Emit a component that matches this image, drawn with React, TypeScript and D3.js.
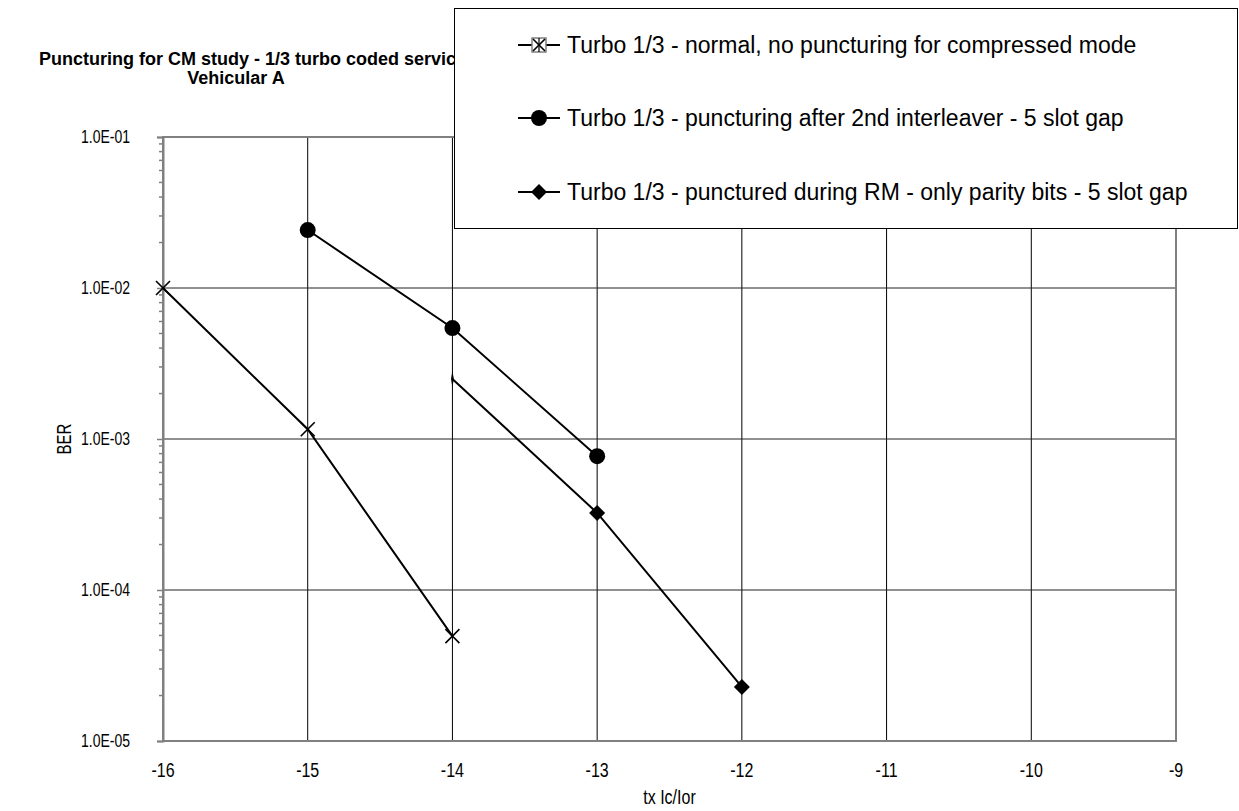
/**
 * D3 log-scale line chart: BER vs tx Ic/Ior for three turbo 1/3 puncturing schemes.
 */
import * as d3 from 'd3';
import { useEffect, useRef } from 'react';

const xTicks = [-16, -15, -14, -13, -12, -11, -10, -9];
const yTicks = [1e-5, 1e-4, 1e-3, 1e-2, 1e-1];

const seriesNames = [
  'Turbo 1/3 - normal, no puncturing for compressed mode',
  'Turbo 1/3 - puncturing after 2nd interleaver - 5 slot gap',
  'Turbo 1/3 - punctured during RM - only parity bits - 5 slot gap',
];

const normalX = [-16, -15, -14];
const normalY = [1.0e-2, 1.16e-3, 4.95e-5];

const afterIlX = [-15, -14, -13];
const afterIlY = [2.42e-2, 5.43e-3, 7.7e-4];

const rmX = [-14, -13, -12];
const rmY = [2.5e-3, 3.24e-4, 2.28e-5];

const FONT = 'Arial, "Liberation Sans", sans-serif';
// axis text in the source is slightly stretched vertically
const STRETCH = 1.3;

export default function App() {
  const svgRef = useRef<SVGSVGElement>(null);

  useEffect(() => {
    if (!svgRef.current) return;
    const W = 1239;
    const H = 811;
    const plot = { left: 163, right: 1176, top: 137, bottom: 741 };

    const svg = d3.select(svgRef.current);
    svg.selectAll('*').remove();
    svg.attr('width', W).attr('height', H);

    svg.append('rect').attr('width', W).attr('height', H).attr('fill', '#fff');

    const x = d3.scaleLinear().domain([-16, -9]).range([plot.left, plot.right]);
    const y = d3.scaleLog().domain([1e-5, 1e-1]).range([plot.bottom, plot.top]);

    // Grid
    const grid = svg.append('g');
    grid
      .selectAll('line.v')
      .data(xTicks)
      .join('line')
      .attr('x1', (d) => x(d))
      .attr('x2', (d) => x(d))
      .attr('y1', plot.top)
      .attr('y2', plot.bottom)
      .attr('stroke', '#000')
      .attr('stroke-width', 1);
    grid
      .selectAll('line.h')
      .data(yTicks)
      .join('line')
      .attr('x1', plot.left)
      .attr('x2', plot.right)
      .attr('y1', (d) => y(d))
      .attr('y2', (d) => y(d))
      .attr('stroke', '#222')
      .attr('stroke-width', 1);

    // Plot border (grey)
    svg
      .append('rect')
      .attr('x', plot.left)
      .attr('y', plot.top)
      .attr('width', plot.right - plot.left)
      .attr('height', plot.bottom - plot.top)
      .attr('fill', 'none')
      .attr('stroke', '#808080')
      .attr('stroke-width', 2);

    // Y axis with minor ticks
    const minor: number[] = [];
    for (let e = -5; e < -1; e++) for (let m = 2; m < 10; m++) minor.push(m * 10 ** e);
    const yAxis = svg.append('g').attr('transform', `translate(${plot.left},0)`);
    yAxis
      .call(
        d3
          .axisLeft(y)
          .tickValues(yTicks)
          .tickSize(6)
          .tickPadding(27)
          .tickFormat((d) => (d as number).toExponential(1).replace('e-', 'E-0').toUpperCase())
      )
      .select('.domain')
      .attr('stroke', '#808080')
      .attr('stroke-width', 2);
    yAxis
      .selectAll('.minor')
      .data(minor)
      .join('line')
      .attr('x1', -4)
      .attr('x2', 0)
      .attr('y1', (d) => y(d))
      .attr('y2', (d) => y(d))
      .attr('stroke', '#808080')
      .attr('stroke-width', 1.5);
    yAxis.selectAll('.tick line').attr('stroke', '#808080').attr('stroke-width', 1.5);
    yAxis
      .selectAll('.tick text')
      .attr('transform', `scale(1,${STRETCH})`)
      .style('font-family', FONT)
      .style('font-size', '14px')
      .style('fill', '#000');

    // X tick labels
    svg
      .append('g')
      .selectAll('text')
      .data(xTicks)
      .join('text')
      .attr('transform', (d) => `translate(${x(d)},770) scale(1,${STRETCH})`)
      .attr('dy', '0.35em')
      .attr('text-anchor', 'middle')
      .style('font-family', FONT)
      .style('font-size', '16px')
      .text((d) => String(d));

    // Axis titles
    svg
      .append('text')
      .attr('transform', `translate(${(plot.left + plot.right) / 2},797) scale(1,${STRETCH})`)
      .attr('dy', '0.35em')
      .attr('text-anchor', 'middle')
      .style('font-family', FONT)
      .style('font-size', '16px')
      .text('tx Ic/Ior');
    svg
      .append('text')
      .attr('transform', `translate(64,${(plot.top + plot.bottom) / 2}) rotate(-90) scale(1,${STRETCH})`)
      .attr('dy', '0.35em')
      .attr('text-anchor', 'middle')
      .style('font-family', FONT)
      .style('font-size', '15px')
      .text('BER');

    // Lines
    const series = [
      { xs: normalX, ys: normalY },
      { xs: afterIlX, ys: afterIlY },
      { xs: rmX, ys: rmY },
    ];
    const line = d3
      .line<[number, number]>()
      .x((d) => x(d[0]))
      .y((d) => y(d[1]));
    series.forEach((s) => {
      svg
        .append('path')
        .datum(s.xs.map((v, i) => [v, s.ys[i]] as [number, number]))
        .attr('d', line)
        .attr('fill', 'none')
        .attr('stroke', '#000')
        .attr('stroke-width', 2);
    });

    // Markers
    const cross = (g: any, cx: number, cy: number, r = 7) => {
      g.append('path')
        .attr('d', `M${cx - r},${cy - r}L${cx + r},${cy + r}M${cx - r},${cy + r}L${cx + r},${cy - r}`)
        .attr('stroke', '#000')
        .attr('stroke-width', 1.6);
    };
    const circle = (g: any, cx: number, cy: number) => {
      g.append('circle').attr('cx', cx).attr('cy', cy).attr('r', 8).attr('fill', '#000');
    };
    const diamond = (g: any, cx: number, cy: number, wScale = 1) => {
      const r = 8;
      g.append('path')
        .attr('d', `M${cx},${cy - r}L${cx + r * wScale},${cy}L${cx},${cy + r}L${cx - r * wScale},${cy}Z`)
        .attr('fill', '#000');
    };
    const marks = svg.append('g');
    normalX.forEach((v, i) => cross(marks, x(v), y(normalY[i])));
    afterIlX.forEach((v, i) => circle(marks, x(v), y(afterIlY[i])));
    // first diamond renders as a thin sliver in the reference
    rmX.forEach((v, i) => diamond(marks, x(v), y(rmY[i]), i === 0 ? 0.18 : 1));

    // Title (partly hidden behind the legend box)
    const title = svg
      .append('text')
      .style('font-family', FONT)
      .style('font-size', '18px')
      .style('font-weight', 'bold');
    title.append('tspan').attr('x', 39).attr('y', 65).text('Puncturing for CM study - 1/3 turbo coded services');
    title
      .append('tspan')
      .attr('x', 236)
      .attr('y', 84)
      .attr('text-anchor', 'middle')
      .text('Vehicular A');

    // Legend
    const lg = svg.append('g');
    lg.append('rect')
      .attr('x', 454.5)
      .attr('y', 8.5)
      .attr('width', 783)
      .attr('height', 220)
      .attr('fill', '#fff')
      .attr('stroke', '#000')
      .attr('stroke-width', 1);
    const rowY = [45, 118, 192];
    seriesNames.forEach((name, i) => {
      const cy = rowY[i];
      lg.append('line')
        .attr('x1', 518)
        .attr('x2', 560)
        .attr('y1', cy)
        .attr('y2', cy)
        .attr('stroke', '#000')
        .attr('stroke-width', 2);
      if (i === 0) {
        lg.append('rect')
          .attr('x', 532)
          .attr('y', cy - 7)
          .attr('width', 14)
          .attr('height', 14)
          .attr('fill', '#fff')
          .attr('stroke', '#777')
          .attr('stroke-width', 1.4);
        cross(lg, 539, cy, 6);
        lg.append('line')
          .attr('x1', 539)
          .attr('x2', 539)
          .attr('y1', cy - 7)
          .attr('y2', cy + 7)
          .attr('stroke', '#000')
          .attr('stroke-width', 1.2);
      } else if (i === 1) {
        circle(lg, 539, cy);
      } else {
        diamond(lg, 539, cy);
      }
      lg.append('text')
        .attr('x', 567)
        .attr('y', cy)
        .attr('dy', '0.35em')
        .style('font-family', FONT)
        .style('font-size', '23px')
        .text(name);
    });
  }, []);

  return (
    <div style={{ position: 'absolute', left: 0, top: 0 }}>
      <svg ref={svgRef} style={{ display: 'block' }} />
    </div>
  );
}
